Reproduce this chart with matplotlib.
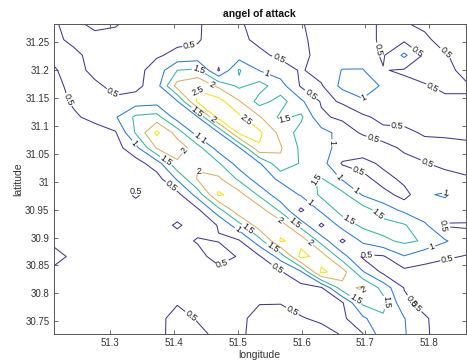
import matplotlib
matplotlib.use("Agg")
import matplotlib.pyplot as plt
import numpy as np

plt.rcParams["font.family"] = ["Liberation Sans", "DejaVu Sans"]

# grid (longitude / latitude) of the field
LON = [51.211, 51.243, 51.276, 51.308, 51.340, 51.373, 51.405, 51.437, 51.470, 51.502, 51.534,
       51.567, 51.599, 51.631, 51.664, 51.696, 51.728, 51.761, 51.793, 51.825, 51.858]
LAT = [30.727, 30.755, 30.783, 30.810, 30.838, 30.866, 30.894, 30.922, 30.949, 30.977, 31.005,
       31.033, 31.061, 31.088, 31.116, 31.144, 31.172, 31.200, 31.227, 31.255, 31.283]

# angle of attack values, rows listed from north (top) to south (bottom)
AOA_ROWS = [
  [0.55, 0.35, 0.65, 0.55, 0.3, 0.3, 0.3, 0.45, 0.7, 0.55, 0.35, 0.35, 0.48, 0.6, 0.65, 0.6, 0.45, 0.48, 0.55, 0.6, 0.55],
  [0.6, 0.4, 0.3, 0.3, 0.3, 0.35, 0.4, 0.45, 0.75, 0.6, 0.4, 0.35, 0.45, 0.6, 0.65, 0.6, 0.45, 0.4, 0.45, 0.6, 0.6],
  [0.6, 0.6, 0.35, 0.35, 0.35, 0.45, 0.6, 0.65, 0.7, 0.75, 0.6, 0.4, 0.42, 0.6, 0.75, 0.7, 0.45, 1.1, 0.42, 0.48, 0.6],
  [0.45, 0.7, 0.35, 0.35, 0.35, 0.7, 1.5, 1.6, 0.45, 1.55, 0.98, 0.75, 0.45, 0.7, 1.02, 1.03, 0.52, 0.45, 0.4, 0.45, 0.55],
  [0.4, 0.6, 0.6, 0.35, 0.35, 0.8, 2.2, 2.45, 1.9, 1.4, 1.7, 1.2, 0.45, 0.45, 1.15, 1.2, 0.95, 0.6, 0.52, 0.45, 0.48],
  [0.35, 0.55, 0.7, 0.6, 0.75, 0.8, 0.95, 2.6, 2.7, 2.05, 1.3, 1.7, 1.1, 0.45, 0.52, 0.95, 0.8, 0.7, 0.6, 0.55, 0.52],
  [0.3, 0.45, 0.6, 0.95, 1.6, 1.7, 0.75, 0.98, 2.7, 2.6, 2.05, 1.4, 1.6, 0.58, 0.4, 0.4, 0.65, 0.65, 0.65, 0.6, 0.65],
  [0.3, 0.3, 0.35, 0.45, 1.55, 2.6, 1.8, 0.75, 0.98, 2.6, 2.6, 1.85, 1.3, 1.2, 0.8, 0.42, 0.35, 0.4, 0.55, 0.6, 0.6],
  [0.3, 0.3, 0.3, 0.3, 0.85, 2.05, 2.3, 1.7, 0.75, 0.95, 2.45, 2.05, 1.4, 1.15, 0.85, 0.95, 0.6, 0.45, 0.35, 0.3, 0.4],
  [0.3, 0.3, 0.3, 0.3, 0.3, 0.75, 1.9, 1.95, 1.55, 0.75, 0.95, 1.9, 1.45, 1.2, 0.45, 0.25, 0.65, 0.6, 0.52, 0.4, 0.35],
  [0.3, 0.3, 0.3, 0.3, 0.3, 0.3, 1.05, 2.05, 2.1, 1.4, 0.7, 1.1, 1.35, 1.55, 0.95, 0.7, 0.25, 0.65, 0.7, 0.65, 0.55],
  [0.3, 0.3, 0.3, 0.3, 0.56, 0.3, 0.35, 1.2, 2.6, 2.2, 1.4, 0.65, 1.05, 1.6, 1.65, 0.95, 0.7, 0.3, 0.95, 1.05, 0.75],
  [0.3, 0.3, 0.3, 0.3, 0.3, 0.3, 0.3, 0.4, 1.3, 2.4, 2.25, 1.4, 0.4, 1.1, 1.7, 1.75, 1.25, 0.9, 0.6, 0.8, 0.75],
  [0.3, 0.3, 0.3, 0.3, 0.3, 0.3, 0.56, 0.3, 0.52, 1.3, 2.3, 2.3, 1.3, 0.4, 1.2, 1.6, 1.7, 1.55, 1.1, 0.45, 0.45],
  [0.35, 0.3, 0.3, 0.3, 0.3, 0.3, 0.3, 0.55, 0.48, 0.45, 1.3, 2.55, 2.35, 1.3, 0.4, 1.1, 1.4, 1.6, 1.45, 1.05, 0.7],
  [0.75, 0.35, 0.3, 0.3, 0.3, 0.3, 0.3, 0.3, 0.75, 0.45, 0.45, 1.2, 2.65, 2.3, 1.2, 0.42, 0.45, 0.97, 0.65, 0.55, 0.48],
  [0.35, 0.3, 0.3, 0.3, 0.3, 0.3, 0.3, 0.3, 0.3, 0.3, 0.3, 0.45, 0.9, 2.6, 2.25, 1.05, 0.4, 0.35, 0.35, 0.3, 0.3],
  [0.3, 0.3, 0.3, 0.3, 0.3, 0.3, 0.3, 0.3, 0.3, 0.3, 0.3, 0.3, 0.35, 0.45, 1.8, 2.1, 1.3, 0.48, 0.35, 0.3, 0.3],
  [0.3, 0.3, 0.3, 0.3, 0.3, 0.3, 0.45, 0.3, 0.3, 0.3, 0.48, 0.48, 0.4, 0.35, 0.45, 1.6, 1.7, 0.6, 0.35, 0.3, 0.3],
  [0.3, 0.3, 0.3, 0.3, 0.3, 0.3, 0.75, 0.45, 0.3, 0.4, 0.65, 0.7, 0.52, 0.45, 0.4, 0.9, 1.4, 1.02, 0.55, 0.3, 0.3],
  [0.3, 0.3, 0.3, 0.3, 0.3, 0.35, 0.7, 0.65, 0.35, 0.45, 0.6, 0.7, 0.65, 0.6, 0.48, 0.48, 1.3, 1.05, 0.55, 0.35, 0.3],
]

LEVELS = [0.5, 1.0, 1.5, 2.0, 2.5]
LEVEL_COLORS = ["#44378f", "#2c7bd0", "#35b59e", "#d9b064", "#f3e21c"]

# where the contour labels sit (lon, lat)
LABEL_LON = [51.425, 51.305, 51.234, 51.570, 51.441, 51.457, 51.438, 51.546, 51.614, 51.715,
             51.781, 51.817, 51.806, 51.697, 51.750, 51.515, 51.574, 51.460, 51.436, 51.614,
             51.614, 51.657, 51.433, 51.446, 51.338, 51.385, 51.397, 51.422, 51.441, 51.346,
             51.692, 51.689, 51.797, 51.828, 51.720, 51.672, 51.817, 51.806, 51.828, 51.567,
             51.516, 51.496, 51.554, 51.563, 51.587, 51.483, 51.582, 51.430, 51.703, 51.609,
             51.700, 51.736, 51.766, 51.783, 51.684, 51.645, 51.708]
LABEL_LAT = [31.240, 31.161, 31.147, 31.236, 31.204, 31.170, 31.163, 31.195, 31.156, 31.236,
             31.233, 31.218, 31.170, 31.152, 31.098, 31.114, 31.114, 31.111, 31.125, 31.021,
             30.964, 31.007, 31.079, 31.075, 31.070, 31.034, 30.994, 31.050, 31.027, 31.003,
             31.027, 30.989, 31.034, 30.985, 30.941, 30.926, 30.926, 30.878, 30.865, 30.932,
             30.917, 30.908, 30.881, 30.846, 30.923, 30.837, 30.761, 30.765, 30.869, 30.883,
             30.803, 30.785, 30.781, 30.785, 30.788, 31.070, 31.062]

X_TICKS = [51.3, 51.4, 51.5, 51.6, 51.7, 51.8]
Y_TICKS = [30.75, 30.8, 30.85, 30.9, 30.95, 31.0, 31.05, 31.1, 31.15, 31.2, 31.25]

SPINE_COLOR = "#555555"
TEXT_COLOR = "#333333"


def main():
  z = np.array(AOA_ROWS)[::-1]

  fig = plt.figure(figsize=(4.67, 3.62), dpi=100)
  ax = fig.add_axes([0.1146, 0.0773, 0.8834, 0.8564])

  cs = ax.contour(LON, LAT, z, levels=LEVELS, colors=LEVEL_COLORS, linewidths=0.75)
  ax.clabel(cs, fmt="%g", fontsize=6.5, colors="#1a1a1a", inline=True, inline_spacing=1,
            manual=list(zip(LABEL_LON, LABEL_LAT)))

  ax.set_xlim(LON[0], LON[-1])
  ax.set_ylim(LAT[0], LAT[-1])
  ax.set_xticks(X_TICKS)
  ax.set_yticks(Y_TICKS)
  ax.set_xticklabels([f"{v:g}" for v in X_TICKS])
  ax.set_yticklabels([f"{v:g}" for v in Y_TICKS])

  ax.tick_params(direction="in", top=True, right=True, length=3, width=0.6,
                 labelsize=7, color=SPINE_COLOR, labelcolor=TEXT_COLOR, pad=3)
  for spine in ax.spines.values():
    spine.set_linewidth(0.7)
    spine.set_color(SPINE_COLOR)

  ax.set_xlabel("longitude", fontsize=7.5, color=TEXT_COLOR, labelpad=1)
  ax.set_ylabel("latitude", fontsize=7.5, color=TEXT_COLOR, labelpad=1)
  ax.set_title("angel of attack", fontsize=7.5, fontweight="bold", color="#111111", pad=5)

  fig.savefig("out.png", dpi=100)
  plt.close(fig)


if __name__ == "__main__":
  main()
